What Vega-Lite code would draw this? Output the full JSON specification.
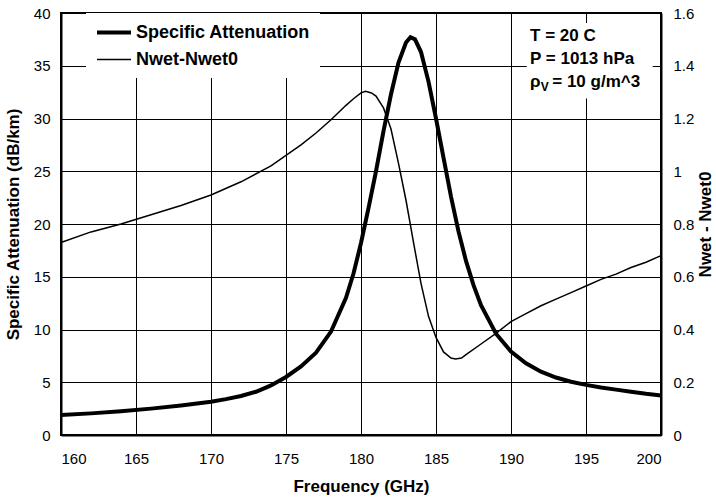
{
  "$schema": "https://vega.github.io/schema/vega-lite/v6.json",
  "width": 600,
  "height": 422,
  "autosize": {"type": "none"},
  "padding": {"left": 61, "top": 13, "right": 55, "bottom": 64},
  "background": "white",
  "config": {
    "font": "Liberation Sans",
    "view": {"stroke": "black", "strokeWidth": 2},
    "axis": {
      "domainColor": "black",
      "domainWidth": 2,
      "tickColor": "black",
      "gridColor": "black",
      "gridWidth": 1,
      "labelColor": "black",
      "labelFont": "Liberation Sans",
      "labelFontSize": 15,
      "titleColor": "black",
      "titleFont": "Liberation Sans",
      "titleFontSize": 17,
      "titleFontWeight": "bold"
    },
    "legend": {
      "orient": "none",
      "legendX": 25,
      "legendY": 0,
      "fillColor": "white",
      "padding": 9,
      "symbolType": "M-1,0H3",
      "symbolSize": 289,
      "symbolStrokeColor": "black",
      "labelFont": "Liberation Sans",
      "labelFontSize": 18,
      "labelFontWeight": "bold",
      "labelColor": "black",
      "labelOffset": 20,
      "labelLimit": 400,
      "rowPadding": 8,
      "title": null
    }
  },
  "datasets": {
    "att": [
      {"f": 160, "v": 1.9}, {"f": 162, "v": 2.05}, {"f": 164, "v": 2.25}, {"f": 166, "v": 2.5},
      {"f": 168, "v": 2.8}, {"f": 170, "v": 3.15}, {"f": 171, "v": 3.4}, {"f": 172, "v": 3.7},
      {"f": 173, "v": 4.1}, {"f": 174, "v": 4.7}, {"f": 175, "v": 5.5}, {"f": 176, "v": 6.5},
      {"f": 177, "v": 7.8}, {"f": 178, "v": 9.8}, {"f": 179, "v": 13.0}, {"f": 179.5, "v": 15.3},
      {"f": 180, "v": 18.2}, {"f": 180.5, "v": 21.5}, {"f": 181, "v": 25}, {"f": 181.5, "v": 28.8},
      {"f": 182, "v": 32.3}, {"f": 182.5, "v": 35.3}, {"f": 183, "v": 37.2}, {"f": 183.3, "v": 37.7},
      {"f": 183.6, "v": 37.5}, {"f": 184, "v": 36.3}, {"f": 184.5, "v": 33.5}, {"f": 185, "v": 30},
      {"f": 185.5, "v": 26.3}, {"f": 186, "v": 22.6}, {"f": 186.5, "v": 19.3}, {"f": 187, "v": 16.5},
      {"f": 187.5, "v": 14.2}, {"f": 188, "v": 12.3}, {"f": 189, "v": 9.6}, {"f": 190, "v": 7.9},
      {"f": 191, "v": 6.8}, {"f": 192, "v": 6.0}, {"f": 193, "v": 5.45}, {"f": 194, "v": 5.05},
      {"f": 195, "v": 4.75}, {"f": 196, "v": 4.5}, {"f": 197, "v": 4.3}, {"f": 198, "v": 4.1},
      {"f": 199, "v": 3.9}, {"f": 200, "v": 3.75}
    ],
    "nwet": [
      {"f": 160, "n": 0.73}, {"f": 162, "n": 0.77}, {"f": 164, "n": 0.8}, {"f": 166, "n": 0.835},
      {"f": 168, "n": 0.87}, {"f": 170, "n": 0.91}, {"f": 172, "n": 0.96}, {"f": 174, "n": 1.02},
      {"f": 175, "n": 1.06}, {"f": 176, "n": 1.1}, {"f": 177, "n": 1.145}, {"f": 178, "n": 1.195},
      {"f": 179, "n": 1.25}, {"f": 179.5, "n": 1.275}, {"f": 180, "n": 1.297}, {"f": 180.3, "n": 1.303},
      {"f": 180.7, "n": 1.297}, {"f": 181, "n": 1.285}, {"f": 181.5, "n": 1.24}, {"f": 182, "n": 1.16},
      {"f": 182.5, "n": 1.03}, {"f": 183, "n": 0.89}, {"f": 183.5, "n": 0.73}, {"f": 184, "n": 0.575},
      {"f": 184.5, "n": 0.45}, {"f": 185, "n": 0.37}, {"f": 185.5, "n": 0.315}, {"f": 186, "n": 0.292},
      {"f": 186.3, "n": 0.288}, {"f": 186.7, "n": 0.292}, {"f": 187, "n": 0.305}, {"f": 188, "n": 0.345},
      {"f": 189, "n": 0.385}, {"f": 190, "n": 0.43}, {"f": 191, "n": 0.46}, {"f": 192, "n": 0.49},
      {"f": 193, "n": 0.515}, {"f": 194, "n": 0.54}, {"f": 195, "n": 0.565}, {"f": 196, "n": 0.59},
      {"f": 197, "n": 0.61}, {"f": 198, "n": 0.635}, {"f": 199, "n": 0.655}, {"f": 200, "n": 0.68}
    ],
    "box": [{"f": 191.05, "f2": 199.45, "v": 31.9, "v2": 39.05}],
    "notes": [
      {"t": "T = 20 C", "f": 191.27, "v": 37.85},
      {"t": "P = 1013 hPa", "f": 191.27, "v": 35.6},
      {"t": "ρ", "f": 191.27, "v": 33.45},
      {"t": "= 10 g/m^3", "f": 192.75, "v": 33.45}
    ],
    "sub": [{"t": "V", "f": 191.98, "v": 33.0}],
    "xt": [
      {"f": 161}, {"f": 162}, {"f": 163}, {"f": 164}, {"f": 166}, {"f": 167}, {"f": 168}, {"f": 169},
      {"f": 171}, {"f": 172}, {"f": 173}, {"f": 174}, {"f": 176}, {"f": 177}, {"f": 178}, {"f": 179},
      {"f": 181}, {"f": 182}, {"f": 183}, {"f": 184}, {"f": 186}, {"f": 187}, {"f": 188}, {"f": 189},
      {"f": 191}, {"f": 192}, {"f": 193}, {"f": 194}, {"f": 196}, {"f": 197}, {"f": 198}, {"f": 199}
    ],
    "yl": [
      {"v": 1}, {"v": 2}, {"v": 3}, {"v": 4}, {"v": 6}, {"v": 7}, {"v": 8}, {"v": 9},
      {"v": 11}, {"v": 12}, {"v": 13}, {"v": 14}, {"v": 16}, {"v": 17}, {"v": 18}, {"v": 19},
      {"v": 21}, {"v": 22}, {"v": 23}, {"v": 24}, {"v": 26}, {"v": 27}, {"v": 28}, {"v": 29},
      {"v": 31}, {"v": 32}, {"v": 33}, {"v": 34}, {"v": 36}, {"v": 37}, {"v": 38}, {"v": 39}
    ],
    "yr": [
      {"n": 0.05}, {"n": 0.1}, {"n": 0.15}, {"n": 0.25}, {"n": 0.3}, {"n": 0.35}, {"n": 0.45}, {"n": 0.5},
      {"n": 0.55}, {"n": 0.65}, {"n": 0.7}, {"n": 0.75}, {"n": 0.85}, {"n": 0.9}, {"n": 0.95}, {"n": 1.05},
      {"n": 1.1}, {"n": 1.15}, {"n": 1.25}, {"n": 1.3}, {"n": 1.35}, {"n": 1.45}, {"n": 1.5}, {"n": 1.55}
    ]
  },
  "encoding": {
    "x": {
      "field": "f", "type": "quantitative",
      "scale": {"domain": [160, 200], "nice": false},
      "axis": {
        "orient": "bottom",
        "title": "Frequency (GHz)",
        "values": [160, 165, 170, 175, 180, 185, 190, 195, 200],
        "grid": true,
        "ticks": false,
        "labelPadding": 16,
        "titlePadding": 12
      }
    }
  },
  "layer": [
    {
      "layer": [
        {
          "data": {"name": "nwet"},
          "mark": {"type": "line", "color": "black", "strokeCap": "butt"},
          "encoding": {
            "y": {
              "field": "n", "type": "quantitative",
              "scale": {"domain": [0, 1.6], "nice": false},
              "axis": {
                "orient": "right",
                "title": "Nwet - Nwet0",
                "titleAngle": 270,
                "titleBaseline": "top",
                "values": [0, 0.2, 0.4, 0.6, 0.8, 1, 1.2, 1.4, 1.6],
                "labelExpr": "format(datum.value, '~g')",
                "grid": false,
                "ticks": false,
                "labelPadding": 12,
                "titlePadding": 4
              }
            },
            "strokeWidth": {
              "datum": "Nwet-Nwet0",
              "type": "nominal",
              "scale": {"domain": ["Specific Attenuation", "Nwet-Nwet0"], "range": [4, 1.5]}
            }
          }
        },
        {
          "data": {"name": "yr"},
          "mark": {"type": "rule", "color": "black", "strokeWidth": 1},
          "encoding": {
            "x": {"datum": 199.73, "type": "quantitative"},
            "x2": {"datum": 200},
            "y": {"field": "n", "type": "quantitative"}
          }
        }
      ]
    },
    {
      "encoding": {
        "y": {
          "field": "v", "type": "quantitative",
          "scale": {"domain": [0, 40], "nice": false},
          "axis": {
            "orient": "left",
            "title": "Specific Attenuation (dB/km)",
            "values": [0, 5, 10, 15, 20, 25, 30, 35, 40],
            "grid": true,
            "ticks": false,
            "labelPadding": 11,
            "titlePadding": 11
          }
        }
      },
      "layer": [
        {
          "data": {"name": "box"},
          "mark": {"type": "rect", "fill": "white", "stroke": null},
          "encoding": {"x2": {"field": "f2"}, "y2": {"field": "v2"}}
        },
        {
          "data": {"name": "notes"},
          "mark": {"type": "text", "align": "left", "baseline": "middle", "fontSize": 17, "fontWeight": "bold", "font": "Liberation Sans", "color": "black"},
          "encoding": {"text": {"field": "t"}}
        },
        {
          "data": {"name": "sub"},
          "mark": {"type": "text", "align": "left", "baseline": "middle", "fontSize": 12, "fontWeight": "bold", "font": "Liberation Sans", "color": "black"},
          "encoding": {"text": {"field": "t"}}
        },
        {
          "data": {"name": "yl"},
          "mark": {"type": "rule", "color": "black", "strokeWidth": 1},
          "encoding": {
            "x": {"datum": 160, "type": "quantitative"},
            "x2": {"datum": 160.27}
          }
        },
        {
          "data": {"name": "xt"},
          "mark": {"type": "rule", "color": "black", "strokeWidth": 1},
          "encoding": {
            "y": {"datum": 0, "type": "quantitative"},
            "y2": {"datum": 0.38}
          }
        },
        {
          "data": {"name": "att"},
          "mark": {"type": "line", "color": "black", "strokeCap": "butt"},
          "encoding": {
            "strokeWidth": {
              "datum": "Specific Attenuation",
              "type": "nominal",
              "scale": {"domain": ["Specific Attenuation", "Nwet-Nwet0"], "range": [4, 1.5]}
            }
          }
        }
      ]
    }
  ],
  "resolve": {"scale": {"y": "independent"}}
}
